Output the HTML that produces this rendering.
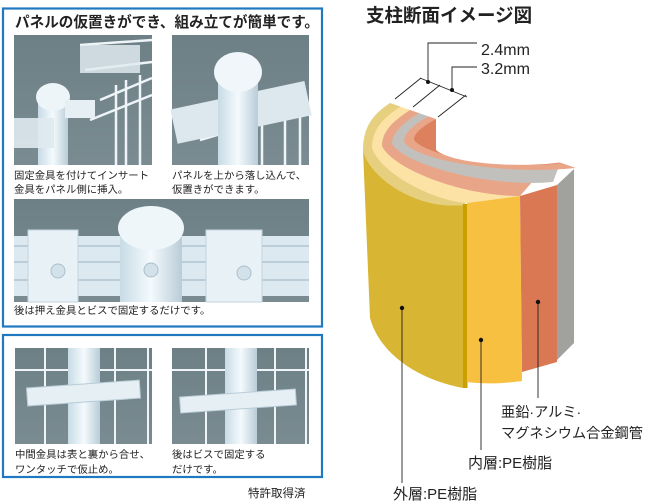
<!DOCTYPE html>
<html><head><meta charset="utf-8">
<style>
html,body{margin:0;padding:0;background:#fff;}
svg{display:block;}
text{font-family:"Liberation Sans","Noto Sans CJK JP",sans-serif;fill:#222;}
</style></head>
<body>
<svg width="646" height="504" viewBox="0 0 646 504" xmlns="http://www.w3.org/2000/svg">
<defs>
<linearGradient id="bg" x1="0" y1="0" x2="0" y2="1"><stop offset="0" stop-color="#6d8086"/><stop offset="1" stop-color="#7a8c92"/></linearGradient>
<linearGradient id="pipe" x1="0" y1="0" x2="1" y2="0"><stop offset="0" stop-color="#c8dbe6"/><stop offset="0.5" stop-color="#f4fafd"/><stop offset="1" stop-color="#b9ccd8"/></linearGradient>
</defs>
<rect x="3" y="8.5" width="319" height="318" fill="none" stroke="#1f78c0" stroke-width="2.2"/>
<rect x="3" y="335" width="319" height="142" fill="none" stroke="#1f78c0" stroke-width="2.2"/>
<text x="15" y="27" font-size="14.6" font-weight="bold">パネルの仮置きができ、組み立てが簡単です。</text>

<rect x="14" y="35" width="138" height="130" fill="url(#bg)"/>
<g fill="none" stroke="#eef4f8" stroke-width="2.5">
<path d="M116 85 V165 M126 80 V165 M140 75 V165 M90 120 L152 95 M100 100 L152 78"/>
<path d="M80 45 L152 40 M85 70 L152 62"/>
</g>
<rect x="80" y="45" width="60" height="28" fill="#dfeaf0" opacity="0.85"/>
<rect x="38" y="95" width="30" height="70" fill="url(#pipe)"/>
<ellipse cx="53" cy="97" rx="17" ry="14" fill="#eef5f9"/>
<rect x="14" y="118" width="40" height="30" fill="#dfeaf0" opacity="0.9"/>
<rect x="65" y="100" width="30" height="18" fill="#e6eff4"/>
<rect x="172" y="35" width="137" height="130" fill="url(#bg)"/>
<g fill="none" stroke="#eef4f8" stroke-width="2.5"><path d="M262 110 V165 M285 105 V165 M300 100 V165 M200 140 L309 108"/></g>
<rect x="172" y="95" width="137" height="35" fill="#dde8ee" transform="rotate(-12 240 110)"/>
<rect x="218" y="70" width="40" height="95" fill="url(#pipe)"/>
<ellipse cx="238" cy="72" rx="24" ry="20" fill="#f0f6fa"/>
<text x="14" y="179" font-size="10.4">固定金具を付けてインサート</text>
<text x="14" y="193" font-size="10.4">金具をパネル側に挿入。</text>
<text x="172" y="179" font-size="10.4">パネルを上から落し込んで、</text>
<text x="172" y="193" font-size="10.4">仮置きができます。</text>
<rect x="14" y="199" width="295" height="103" fill="url(#bg)"/>
<rect x="14" y="236" width="295" height="60" fill="#dce9f0"/>
<g stroke="#b0c4cf" stroke-width="1.5"><path d="M14 246 H309 M14 262 H309 M14 280 H309"/></g>
<rect x="28" y="230" width="50" height="72" fill="#e8f1f6" stroke="#c3d4de"/>
<rect x="206" y="230" width="56" height="72" fill="#e8f1f6" stroke="#c3d4de"/>
<rect x="120" y="228" width="62" height="74" fill="url(#pipe)"/>
<ellipse cx="151" cy="228" rx="33" ry="22" fill="#eef6fa"/>
<circle cx="58" cy="271" r="7" fill="#d3e2ea" stroke="#aabfcb"/><circle cx="151" cy="270" r="7" fill="#d3e2ea" stroke="#aabfcb"/><circle cx="244" cy="273" r="7" fill="#d3e2ea" stroke="#aabfcb"/>
<text x="14" y="314" font-size="10.4">後は押え金具とビスで固定するだけです。</text>

<rect x="15" y="348" width="137" height="96" fill="url(#bg)"/>
<g stroke="#eef4f8" stroke-width="2"><path d="M45 348 V444 M115 348 V444 M148 348 V444 M15 370 H152"/></g>
<rect x="68" y="348" width="32" height="96" fill="url(#pipe)"/>
<rect x="27" y="384" width="113" height="18" fill="#e6eff4" stroke="#b9ccd6" transform="rotate(-4 84 393)"/>
<rect x="172" y="348" width="137" height="96" fill="url(#bg)"/>
<g stroke="#eef4f8" stroke-width="2"><path d="M206 348 V444 M275 348 V444 M306 348 V444 M172 370 H309"/></g>
<rect x="225" y="348" width="32" height="96" fill="url(#pipe)"/>
<rect x="180" y="393" width="116" height="16" fill="#e6eff4" stroke="#b9ccd6" transform="rotate(-4 238 401)"/>
<text x="15" y="458" font-size="10.4">中間金具は表と裏から合せ、</text>
<text x="15" y="473" font-size="10.4">ワンタッチで仮止め。</text>
<text x="172" y="458" font-size="10.4">後はビスで固定する</text>
<text x="172" y="473" font-size="10.4">だけです。</text>
<text x="248" y="497" font-size="11.5">特許取得済</text>

<text x="366" y="22" font-size="18.5" font-weight="bold" fill="#333">支柱断面イメージ図</text>
<path d="M390 103 C375 113 363 125 363 150 C368 175 413 210 463 205 L555 150 L500 60 L390 60 Z" fill="#e6d080"/>
<path d="M400 107 C385 117 372 128 372 148 C380 172 430 200 467 203 L520 196 L555 150 L500 60 L400 60 Z" fill="#fde2a6"/>
<path d="M410 110 C395 120 382 130 382 146 C392 168 460 196 520 196 L560 150 L500 60 L410 60 Z" fill="#e8a588"/>
<path d="M419 113 C405 122 392 132 392 144 C405 165 490 188 553 182 L565 150 L500 60 L419 60 Z" fill="#c2c0bc"/>
<path d="M429 116 C415 124 404 132 404 142 C418 162 510 175 575 168 L565 150 L500 60 L429 60 Z" fill="#e8a588"/>
<path d="M436 119 C424 126 414 132 414 140 C428 158 515 170 560 163 L555 145 L500 60 L436 60 Z" fill="#dc805e"/>
<path d="M436 119 L436 150 C452 164 520 168 560 162.5 L576 168 L646 168 L646 40 L436 40 Z" fill="#fff"/>
<path d="M385 40 L390 103 L436 119 L437 40 Z" fill="#fff"/>
<path d="M363 150 C368 175 413 210 463 205 L463 388 C420 380 380 355 370 318 Z" fill="#d8b533"/>
<rect x="463" y="204" width="4.5" height="184" fill="#c9a000"/>
<path d="M467 203 L520 196 L522 381 C500 384 482 384 467 382 Z" fill="#f8c040"/>
<path d="M520 196 L557 185 L557 362 L522 372 Z" fill="#d97852"/>
<path d="M557 185 L574 169 L574 343 L557 360 Z" fill="#a1a19d"/>
<g stroke="#222" stroke-width="0.9" fill="none">
<path d="M428 82 V43 H477"/>
<path d="M452 90 V67 H477"/>
<path d="M395 99 L421 78 M413 107 L440 85 M438 117 L466 95 M420 78 L467 97"/>
<path d="M402 308 V483 M481 340 V450 M538 302 V398"/>
</g>
<g fill="#111"><circle cx="428" cy="82" r="2"/><circle cx="452" cy="90" r="2"/><circle cx="402" cy="308" r="2.2"/><circle cx="481" cy="340" r="2.2"/><circle cx="538" cy="302" r="2.2"/></g>
<text x="481" y="55" font-size="16" fill="#333">2.4mm</text>
<text x="481" y="74" font-size="16" fill="#333">3.2mm</text>
<text x="501" y="417" font-size="14.2" fill="#333">亜鉛·アルミ·</text>
<text x="501" y="438" font-size="14.2" fill="#333">マグネシウム合金鋼管</text>
<text x="468" y="468" font-size="15" fill="#333">内層:PE樹脂</text>
<text x="393" y="499" font-size="15" fill="#333">外層:PE樹脂</text>
</svg>
</body></html>
